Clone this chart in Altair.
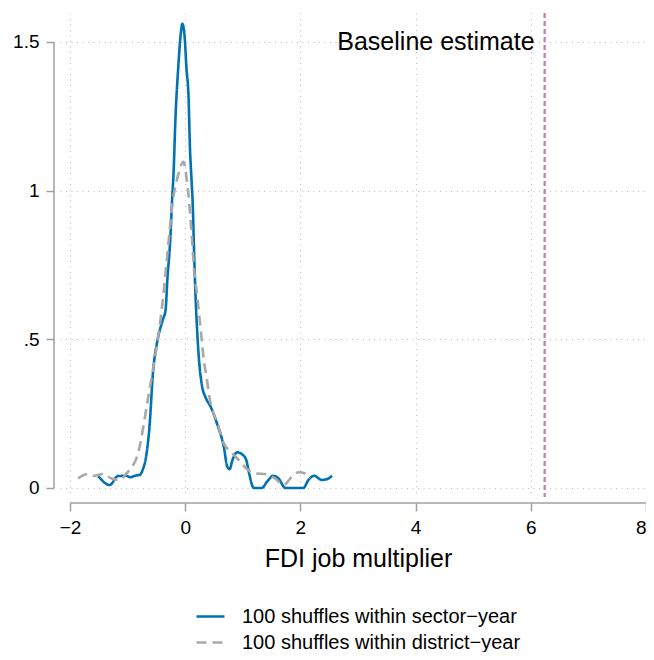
import altair as alt
import pandas as pd

# Series 1: 100 shuffles within sector-year
sector_x = [-1.51, -1.31, -1.17, -1.02, -0.95, -0.88, -0.79, -0.74, -0.68, -0.62, -0.56, -0.48,
            -0.39, -0.34, -0.31, -0.26, -0.23, -0.20, -0.17, -0.12, -0.07, -0.05, -0.01, 0.02,
            0.06, 0.08, 0.11, 0.13, 0.155, 0.18, 0.21, 0.24, 0.29, 0.36, 0.44, 0.56, 0.67, 0.73,
            0.77, 0.82, 0.90, 0.99, 1.06, 1.11, 1.19, 1.33, 1.42, 1.53, 1.62, 1.74, 2.05, 2.14,
            2.24, 2.37, 2.45, 2.55]
sector_y = [0.040, 0.010, 0.040, 0.041, 0.036, 0.041, 0.044, 0.060, 0.105, 0.206, 0.386, 0.498,
            0.565, 0.600, 0.700, 0.834, 0.958, 1.070, 1.238, 1.417, 1.540, 1.561, 1.518, 1.417,
            1.305, 1.159, 1.036, 0.958, 0.789, 0.643, 0.520, 0.430, 0.346, 0.302, 0.274, 0.212,
            0.139, 0.072, 0.063, 0.094, 0.120, 0.113, 0.094, 0.049, 0.000, 0.000, 0.021, 0.041,
            0.032, 0.000, 0.000, 0.027, 0.041, 0.027, 0.029, 0.041]

# Series 2: 100 shuffles within district-year
district_x = [-1.86, -1.71, -1.60, -1.43, -1.28, -1.14, -1.02, -0.82, -0.65, -0.505, -0.42, -0.33,
              -0.28, -0.22, -0.13, -0.03, 0.02, 0.07, 0.115, 0.155, 0.21, 0.27, 0.33, 0.36, 0.44,
              0.56, 0.67, 0.79, 0.93, 1.07, 1.22, 1.39, 1.56, 1.71, 1.85, 1.97, 2.08, 2.17]
district_y = [0.032, 0.046, 0.041, 0.047, 0.032, 0.027, 0.049, 0.116, 0.296, 0.464, 0.580, 0.744,
              0.845, 0.958, 1.047, 1.097, 1.047, 0.958, 0.845, 0.733, 0.643, 0.531, 0.419, 0.386,
              0.285, 0.218, 0.150, 0.122, 0.094, 0.064, 0.049, 0.047, 0.032, 0.010, 0.038, 0.053,
              0.049, 0.032]

series_names = ["100 shuffles within sector\u2212year", "100 shuffles within district\u2212year"]
baseline_value = [6.24]
baseline_label = ["Baseline estimate"]
x_ticks = [-2, 0, 2, 4, 6, 8]
y_ticks = [0, 0.5, 1, 1.5]

df = pd.concat([
    pd.DataFrame({"x": sector_x, "y": sector_y, "series": series_names[0], "order": range(len(sector_x))}),
    pd.DataFrame({"x": district_x, "y": district_y, "series": series_names[1], "order": range(len(district_x))}),
])
base_df = pd.DataFrame({"x": baseline_value, "y": [1.5], "label": baseline_label})
xaxis_df = pd.DataFrame({"x": [min(x_ticks)], "x2": [max(x_ticks)]})
yaxis_df = pd.DataFrame({"y": [min(y_ticks)], "y2": [max(y_ticks)]})

W, H = 586, 484
FONT = "Liberation Sans"
AXIS_GRAY = "#a0a0a0"

xscale = alt.Scale(domain=[-2.1736, 8], nice=False, zero=False)
yscale = alt.Scale(domain=[-0.0303, 1.5975], nice=False, zero=False)

legend_kw = dict(title=None, orient="none", legendX=135, legendY=588,
                 direction="vertical", symbolType="stroke",
                 symbolSize=784, symbolStrokeWidth=2.5,
                 labelFont=FONT, labelFontSize=20, labelColor="black", labelLimit=0,
                 labelOffset=16, rowPadding=0, padding=0)

lines = alt.Chart(df).mark_line(strokeWidth=2.6, interpolate="monotone").encode(
    x=alt.X("x:Q", scale=xscale,
            axis=alt.Axis(values=x_ticks, title="FDI job multiplier", offset=6, format="~g",
                          titlePadding=9, titleX=298)),
    y=alt.Y("y:Q", scale=yscale,
            axis=alt.Axis(values=y_ticks, title=None, offset=6, format="~g",
                          labelExpr="datum.value == 0.5 ? '.5' : datum.label")),
    color=alt.Color("series:N",
                    scale=alt.Scale(domain=series_names, range=["#0072B2", "#A8A8A8"]),
                    legend=alt.Legend(**legend_kw)),
    strokeDash=alt.StrokeDash("series:N",
                              scale=alt.Scale(domain=series_names, range=[[1, 0], [10, 6]]),
                              legend=alt.Legend(**legend_kw)),
    order="order:Q",
)

vline = alt.Chart(base_df).mark_rule(color="#CC79A7", strokeWidth=2.2, strokeDash=[5, 3]).encode(
    x="x:Q"
)

label = alt.Chart(base_df).mark_text(align="right", baseline="middle", dx=-10, fontSize=25,
                                     font=FONT, color="black").encode(
    x="x:Q", y="y:Q", text="label:N"
)

xaxis_line = alt.Chart(xaxis_df).mark_rule(color=AXIS_GRAY, strokeWidth=1.5).encode(
    x="x:Q", x2="x2:Q", y=alt.value(H + 6)
)
yaxis_line = alt.Chart(yaxis_df).mark_rule(color=AXIS_GRAY, strokeWidth=1.5).encode(
    y="y:Q", y2="y2:Q", x=alt.value(-6)
)

chart = alt.layer(vline, lines, label, xaxis_line, yaxis_line).properties(
    width=W, height=H,
    autosize=alt.AutoSizeParams(type="none"),
    padding={"left": 52, "top": 5, "right": 0, "bottom": 155},
).configure_view(stroke=None).configure_axis(
    domain=False,
    grid=True, gridColor="#bdbdbd", gridDash=[1, 4.5], gridWidth=1,
    ticks=True, tickColor=AXIS_GRAY, tickWidth=1.5, tickSize=8,
    labelFont=FONT, labelFontSize=19, labelColor="black", labelPadding=7,
    titleFont=FONT, titleFontSize=25, titleFontWeight="normal", titleColor="black",
)

chart.save("out.html", embed_options={"renderer": "svg", "actions": False})
